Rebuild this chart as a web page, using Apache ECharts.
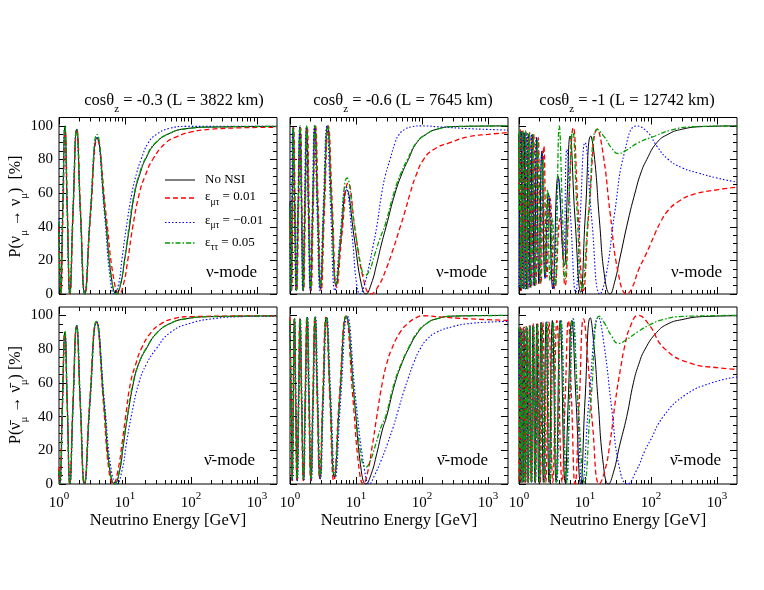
<!DOCTYPE html>
<html><head><meta charset="utf-8">
<script src="https://cdn.jsdelivr.net/npm/echarts@6/dist/echarts.min.js"></script>
<style>html,body{margin:0;padding:0;background:#fff}#c{width:764px;height:590px}</style>
</head><body><div id="c"></div>
<script>
// ---- tick values ----
const energyMajor = [1, 10, 100, 1000];
const energyMinor = [2,3,4,5,6,7,8,9,20,30,40,50,60,70,80,90,200,300,400,500,600,700,800,900];
const probMajor = [0, 20, 40, 60, 80, 100];
const probMinor = [5,10,15,25,30,35,45,50,55,65,70,75,85,90,95];
const panelTitles = ['cosθ{s|z} = -0.3 (L = 3822 km)', 'cosθ{s|z} = -0.6 (L = 7645 km)', 'cosθ{s|z} = -1 (L = 12742 km)'];
const seriesNames = ['No NSI', 'ε{s|μτ} = 0.01', 'ε{s|μτ} = −0.01', 'ε{s|ττ} = 0.05'];

// ---- nu-mode, L = 3822 km : [E (GeV), P (%)] ----
const nu3822_noNSI = [[1,42],[1.06,0],[1.14,50],[1.23,100],[1.335,50],[1.46,0],[1.63,49],[1.85,98],[2.11,49],[2.46,0],[2.98,47],[3.77,93],[5.0,47],[6.3,8],[7.4,0],[8.5,5],[10,22],[11.5,38],[14,60],[17,72],[20.3,80],[29.4,90],[50,96],[83,98.3],[200,99.3],[2000,99.7]];
const nu3822_emtP = [[1,40],[1.07,0],[1.15,49],[1.24,97],[1.345,49],[1.47,0],[1.64,49],[1.86,98],[2.13,48],[2.48,0],[3.0,46],[3.8,92],[5.2,46],[6.8,8],[8.2,0],[9.5,6],[11,20],[13.1,40],[16.5,60],[20,70],[26.2,80],[41.6,90],[60,93.5],[100,96.4],[200,98],[500,98.8],[2000,99.2]];
const nu3822_emtM = [[1,45],[1.05,0],[1.13,50],[1.22,99],[1.325,50],[1.45,0],[1.62,49],[1.84,98],[2.1,49],[2.44,0],[2.96,47],[3.75,93],[4.9,47],[6.0,8],[6.9,0],[8,6],[9,21],[10.4,39],[12.7,60],[15,72],[17.5,80],[22.5,90],[30,95],[46.7,98.5],[83,99.7],[2000,99.8]];
const nu3822_ett = [[1,43],[1.06,0],[1.14,50],[1.23,100],[1.335,50],[1.46,0],[1.63,49],[1.85,98],[2.11,49],[2.46,0],[2.98,48],[3.75,95],[5.0,48],[6.3,8],[7.35,0],[8.4,5],[10,22],[11.3,38],[13.8,60],[17,73],[20,80],[29,90],[50,96],[83,98.3],[200,99.3],[2000,99.7]];

// ---- anti-nu-mode, L = 3822 km ----
const anu3822_noNSI = [[1,8],[1.03,0],[1.12,45],[1.23,90],[1.335,47],[1.46,0],[1.63,47],[1.85,94],[2.1,48],[2.43,0],[2.93,48],[3.69,96],[4.8,48],[5.9,8],[7.0,0],[8.2,7],[9.5,24],[10.9,40],[13.4,60],[16,71],[20.8,80],[31,90],[50,95.5],[83,98],[200,99.3],[2000,99.7]];
const anu3822_emtP = [[1,10],[1.03,0],[1.12,45],[1.22,89],[1.33,46],[1.455,0],[1.62,47],[1.84,93],[2.09,48],[2.42,0],[2.9,48],[3.66,96],[4.7,48],[5.7,8],[6.7,0],[7.8,8],[9,24],[10.2,40],[12.1,60],[14.5,71],[17.5,80],[24.8,90],[35,95],[53,98],[100,99.3],[2000,99.8]];
const anu3822_emtM = [[1,6],[1.035,0],[1.13,45],[1.23,90],[1.34,47],[1.47,0],[1.64,47],[1.86,94],[2.12,48],[2.45,0],[2.96,48],[3.72,96],[4.9,48],[6.2,8],[7.5,0],[9,8],[10.5,24],[12.4,40],[16.2,60],[21,71],[29.4,80],[49,90],[100,95.5],[234,98.2],[500,99.2],[2000,99.6]];
const anu3822_ett = [[1,8],[1.04,0],[1.13,46],[1.23,91],[1.335,47],[1.46,0],[1.63,47],[1.85,94],[2.1,48],[2.43,0],[2.93,48],[3.69,96.5],[4.8,48],[5.9,8],[6.95,0],[8.1,7],[9.4,24],[10.8,40],[13.2,60],[16,71],[20.5,80],[31,90],[50,95.5],[83,98],[200,99.3],[2000,99.7]];

// ---- nu-mode, L = 7645 km ----
const nu7645_noNSI = [[1,55],[1.04,2],[1.08,51],[1.12,99],[1.18,51],[1.25,2],[1.33,51],[1.42,99],[1.5,51],[1.58,2],[1.68,51],[1.79,99],[1.91,51],[2.05,2],[2.21,51],[2.39,100],[2.62,51],[2.9,3],[3.26,51],[3.72,100],[4.27,52],[5.0,5],[5.9,33],[7.2,62],[9.5,32],[12,6],[14.1,0],[17,6],[20.6,18],[24,29],[28.5,40],[39,60],[50,72],[62,80],[83,90],[120,95.5],[166,98],[300,99.6],[2000,100]];
const nu7645_emtP = [[1,45],[1.06,2],[1.1,51],[1.14,99],[1.2,51],[1.27,2],[1.35,51],[1.45,99],[1.52,51],[1.61,2],[1.71,51],[1.83,99],[1.95,51],[2.09,2],[2.25,51],[2.44,100],[2.68,51],[2.96,2],[3.33,51],[3.8,100],[4.38,52],[5.1,4],[6.1,35],[7.6,66],[10,34],[13.5,6],[16.7,0],[22,5],[28,14],[36,26],[45,38],[56,50],[66,60],[80,70],[105,80],[150,86],[265,90],[500,93.5],[1000,95],[2000,96]];
const nu7645_emtM = [[1,30],[1.02,2],[1.06,51],[1.1,99],[1.16,51],[1.23,2],[1.31,51],[1.4,99],[1.48,51],[1.56,2],[1.65,51],[1.76,99],[1.88,51],[2.02,2],[2.17,51],[2.34,100],[2.56,51],[2.84,2],[3.18,51],[3.62,100],[4.12,51],[4.8,2],[5.7,33],[7.0,64],[8.8,33],[10.2,6],[11.5,0],[13.5,6],[16,18],[18,28],[20.6,40],[24.5,60],[28,71],[32.7,80],[39,90],[45,95],[55,98],[70,99.5],[98,100],[200,99.3],[500,98.4],[1000,97.9],[2000,97.5]];
const nu7645_ett = [[1,52],[1.04,2],[1.08,51],[1.12,99],[1.18,51],[1.25,2],[1.33,51],[1.42,100],[1.5,51],[1.58,2],[1.68,51],[1.79,100],[1.91,51],[2.05,3],[2.21,51],[2.39,100],[2.62,52],[2.9,4],[3.26,52],[3.72,100],[4.27,53],[5.0,6],[5.9,37],[7.3,69],[9.5,40],[12,16],[13.7,11],[16,14],[19,23],[23,33],[27.5,41],[38,61],[48,72],[60,80],[82,90],[120,95.5],[166,98],[300,99.6],[2000,100]];

// ---- anti-nu-mode, L = 7645 km ----
const anu7645_noNSI = [[1,97],[1.04,50],[1.08,2],[1.12,50],[1.17,98],[1.22,50],[1.28,2],[1.35,50],[1.42,98],[1.5,50],[1.6,2],[1.7,50],[1.82,99],[1.94,50],[2.08,2],[2.23,50],[2.4,99],[2.6,51],[2.85,3],[3.16,51],[3.55,99],[4.05,52],[4.7,4],[5.65,50],[7.1,99.5],[9.45,50],[12,8],[14.1,0],[17,6],[20.6,18],[25,32],[29,40],[39,60],[50,72],[62,80],[87,90],[120,95.5],[166,98],[300,99.6],[2000,100]];
const anu7645_emtP = [[1,99],[1.04,50],[1.075,2],[1.115,50],[1.16,98],[1.21,50],[1.27,2],[1.34,50],[1.41,98],[1.49,50],[1.59,2],[1.69,50],[1.8,99],[1.92,50],[2.06,2],[2.21,50],[2.38,99],[2.57,51],[2.82,3],[3.12,51],[3.5,99],[4.0,52],[4.6,2],[5.55,50],[7.0,99.5],[9.0,50],[11.2,8],[12.9,0],[15,7],[17.5,22],[20.6,40],[25,60],[29,71],[34.6,80],[46.4,90],[60,95],[80,98.5],[104,99.8],[200,99],[500,98],[1000,97.5],[2000,97]];
const anu7645_emtM = [[1,93],[1.045,50],[1.09,2],[1.13,50],[1.18,98],[1.235,50],[1.3,2],[1.37,50],[1.44,98],[1.52,50],[1.62,2],[1.73,50],[1.85,99],[1.97,50],[2.11,2],[2.27,50],[2.44,99],[2.65,51],[2.9,3],[3.22,51],[3.62,99],[4.15,52],[4.85,4],[5.85,50],[7.4,99.5],[9.9,50],[13.5,8],[15.9,0],[19,5],[24,14],[30,24],[36,33],[43,43],[52,54],[62,63],[75,72],[93,80],[120,86],[166,90],[300,93.5],[473,95],[1000,96],[2000,96.5]];
const anu7645_ett = [[1,97],[1.04,50],[1.08,3],[1.12,50],[1.17,98],[1.22,50],[1.28,3],[1.35,50],[1.42,98],[1.5,51],[1.6,3],[1.7,51],[1.82,99],[1.94,51],[2.08,3],[2.23,51],[2.4,99],[2.6,52],[2.85,4],[3.16,52],[3.55,99],[4.05,53],[4.7,5],[5.65,51],[7.1,99.5],[9.4,52],[12,16],[14.1,10],[16.5,14],[20,24],[24,34],[28,40],[38,60],[49,72],[61,80],[85,90],[120,95.5],[166,98],[300,99.6],[2000,100]];

// ---- nu-mode, L = 12742 km ----
const nu12742_noNSI = [[1,95],[1.06,2],[1.11,97],[1.17,3],[1.23,96],[1.3,3],[1.39,95],[1.48,4],[1.59,95],[1.71,5],[1.85,93],[2.0,6],[2.22,85],[2.47,10],[2.78,60],[3.25,3],[3.9,70],[4.86,17],[5.33,55],[5.93,94],[7.0,47],[8.6,1],[10.1,47],[12.2,94],[14,80],[16.5,44],[20,9],[23.9,0],[28,7],[34,22],[45,44],[57,60],[70,72],[86,80],[122,90],[180,95],[292,98],[600,99.6],[2000,100]];
const nu12742_emtP = [[1,60],[1.04,98],[1.09,2],[1.15,97],[1.21,3],[1.28,96],[1.36,3],[1.45,96],[1.55,4],[1.67,95],[1.8,5],[1.96,93],[2.15,6],[2.38,88],[2.65,10],[2.95,57],[3.5,3],[4.2,45],[4.97,5],[5.7,55],[6.65,99],[7.8,52],[9.4,2],[11.5,50],[15.4,98],[19,82],[24,48],[32,12],[42.8,0],[52,4],[64,14],[80,22],[96.6,29],[115,36],[140,43],[183,50],[260,55],[415,59],[1000,62],[2000,63.5]];
const nu12742_emtM = [[1,4],[1.05,97],[1.11,3],[1.18,96],[1.25,3],[1.33,96],[1.43,4],[1.54,95],[1.67,5],[1.82,93],[2.0,7],[2.22,85],[2.5,9],[2.86,58],[3.33,3],[3.94,69],[4.7,23],[5.3,86],[6.1,43],[7.2,1],[8.4,45],[10,90],[12.6,45],[16.9,0],[21,12],[28,48],[40,85],[61,100],[90,96],[122,88],[183,80],[300,75],[515,72],[1000,69],[2000,66.5]];
const nu12742_ett = [[1,50],[1.02,98],[1.07,3],[1.13,97],[1.19,3],[1.26,97],[1.34,3],[1.42,96],[1.52,4],[1.63,95],[1.76,5],[1.92,92],[2.1,7],[2.3,80],[2.5,12],[2.7,62],[2.95,8],[3.2,45],[3.55,5],[4.08,100],[4.5,55],[4.97,9],[5.63,53],[6.5,97],[7.55,50],[9.0,3],[11.4,50],[15.4,98],[20,93],[25,87],[32,83.5],[40,85],[64,90],[115,94],[200,97.5],[415,99.5],[2000,100]];

// ---- anti-nu-mode, L = 12742 km ----
const anu12742_noNSI = [[1,92],[1.045,1],[1.09,90],[1.14,1],[1.19,91],[1.25,1],[1.31,92],[1.38,1],[1.45,93],[1.54,1],[1.63,94],[1.74,1],[1.86,95],[1.99,1],[2.16,96],[2.34,1],[2.58,96],[2.85,1],[3.2,97],[3.65,1],[4.2,97],[5.0,1],[5.57,50],[6.3,97],[7.3,50],[8.6,0],[10,50],[12,98.6],[13.8,80],[15.7,50],[19,11],[22.6,0],[27,7],[33,22],[42.8,40],[54,60],[65,71],[81,80],[122,90],[180,95],[292,97.5],[600,99.3],[2000,99.8]];
const anu12742_emtP = [[1,2],[1.05,93],[1.1,1],[1.16,93],[1.22,1],[1.28,94],[1.36,1],[1.44,94],[1.53,1],[1.65,95],[1.77,1],[1.92,95],[2.1,1],[2.3,96],[2.55,1],[2.85,96],[3.25,1],[3.75,97],[4.5,1],[5.0,50],[5.6,97],[6.25,50],[7.06,0],[8.2,50],[9.5,98],[11.2,70],[13,35],[16.5,0],[20,8],[24,25],[29,50],[35,70],[40,82],[48,93],[64,100],[91,95],[163,80],[414,71.4],[1000,69],[2000,68]];
const anu12742_emtM = [[1,60],[1.025,92],[1.065,1],[1.11,92],[1.16,1],[1.21,93],[1.27,1],[1.33,93],[1.4,1],[1.48,94],[1.57,1],[1.67,94],[1.78,1],[1.9,95],[2.05,1],[2.22,95],[2.42,1],[2.65,96],[2.95,1],[3.3,96],[3.75,1],[4.35,97],[5.3,1],[5.9,50],[6.65,98],[7.7,50],[9.1,0],[11.5,50],[16,99],[19.5,82],[25.3,45],[33,10],[43.7,0],[60,8],[81,20],[96.6,25.6],[153,40],[327,52.7],[830,60],[2000,63.5]];
const anu12742_ett = [[1,93],[1.045,1],[1.09,92],[1.135,1],[1.19,93],[1.25,1],[1.31,93],[1.38,1],[1.46,94],[1.55,1],[1.65,94],[1.76,1],[1.88,95],[2.03,1],[2.2,95],[2.4,1],[2.65,96],[2.95,1],[3.3,96],[3.7,1],[4.3,97],[5.2,1],[5.8,50],[6.5,98],[7.8,50],[9.8,1],[12.3,50],[16.5,99.6],[20,95],[25,88],[32,83.4],[40,85],[64,90.5],[96.6,94.5],[150,97.5],[300,99.4],[2000,100]];

// ---- layout ----
const FONT = '"Liberation Serif", "Times New Roman", serif';
const cols = [{l: 59, w: 218}, {l: 290, w: 218}, {l: 519, w: 218}];
const rows = [{t: 117.5, h: 176.5}, {t: 307, h: 177}];
const panels = [
  {r: 0, c: 0, d: [nu3822_noNSI, nu3822_emtP, nu3822_emtM, nu3822_ett]},
  {r: 0, c: 1, d: [nu7645_noNSI, nu7645_emtP, nu7645_emtM, nu7645_ett]},
  {r: 0, c: 2, d: [nu12742_noNSI, nu12742_emtP, nu12742_emtM, nu12742_ett]},
  {r: 1, c: 0, d: [anu3822_noNSI, anu3822_emtP, anu3822_emtM, anu3822_ett]},
  {r: 1, c: 1, d: [anu7645_noNSI, anu7645_emtP, anu7645_emtM, anu7645_ett]},
  {r: 1, c: 2, d: [anu12742_noNSI, anu12742_emtP, anu12742_emtM, anu12742_ett]}
];
const lineStyles = [
  {color: '#000000', width: 1, type: 'solid'},
  {color: '#ff0000', width: 1.3, type: [5, 3]},
  {color: '#0000ff', width: 1.1, type: [1.5, 2]},
  {color: '#00a000', width: 1.3, type: [5, 2, 1.5, 2]}
];

const grid = [], xAxis = [], yAxis = [], series = [];
function xAx(gi, pos, ticks, len, labels) {
  return {type: 'log', logBase: 10, gridIndex: gi, position: pos, min: 1, max: 2000,
    axisLine: {show: false, onZero: false}, splitLine: {show: false}, minorTick: {show: false},
    axisTick: {show: true, inside: true, length: len, customValues: ticks, lineStyle: {color: '#000', width: 1}},
    axisLabel: {show: labels, customValues: energyMajor, margin: 7, color: '#000', fontFamily: FONT, fontSize: 15, lineHeight: 24,
      formatter: v => '10{sup|' + Math.round(Math.log10(v)) + '}',
      rich: {sup: {fontSize: 11, lineHeight: 11, verticalAlign: 'top', fontFamily: FONT, color: '#000'}}}};
}
function yAx(gi, pos, ticks, len, labels) {
  return {type: 'value', gridIndex: gi, position: pos, min: 0, max: 105,
    axisLine: {show: false, onZero: false}, splitLine: {show: false},
    axisTick: {show: true, inside: true, length: len, customValues: ticks, lineStyle: {color: '#000', width: 1}},
    axisLabel: {show: labels, customValues: probMajor, margin: 6, color: '#000', fontFamily: FONT, fontSize: 15}};
}
panels.forEach((p, gi) => {
  const c = cols[p.c], r = rows[p.r];
  grid.push({left: c.l, top: r.t, width: c.w, height: r.h, show: true, borderColor: '#000', borderWidth: 1, backgroundColor: 'rgba(0,0,0,0)'});
  const xl = p.r === 1, yl = p.c === 0;
  xAxis.push(xAx(gi, 'bottom', energyMajor, 7, xl), xAx(gi, 'bottom', energyMinor, 4, false),
             xAx(gi, 'top', energyMajor, 7, false), xAx(gi, 'top', energyMinor, 4, false));
  yAxis.push(yAx(gi, 'left', probMajor, 7, yl), yAx(gi, 'left', probMinor, 4, false),
             yAx(gi, 'right', probMajor, 7, false), yAx(gi, 'right', probMinor, 4, false));
  p.d.forEach((d, k) => series.push({type: 'line', name: seriesNames[k], xAxisIndex: gi * 4, yAxisIndex: gi * 4,
    data: d, showSymbol: false, symbol: 'none', smooth: 0.5, silent: true, z: 2 + k,
    lineStyle: Object.assign({}, lineStyles[k])}));
});

// ---- texts ----
const graphic = [];
function txt(x, y, text, size, opts) {
  const o = Object.assign({align: 'center', rot: 0, lh: null, subSize: 11, subLh: 12}, opts || {});
  const style = {text: text, fill: '#000', font: size + 'px ' + FONT, align: o.align, textAlign: o.align,
    verticalAlign: 'middle', textVerticalAlign: 'middle',
    rich: {s: {fontSize: o.subSize, lineHeight: o.subLh, verticalAlign: 'bottom', fontFamily: FONT, fill: '#000'}}};
  if (o.lh) style.lineHeight = o.lh;
  graphic.push({type: 'text', x: x, y: y, rotation: o.rot, style: style, silent: true, z: 100});
}
const titleX = [174, 403, 627];
panelTitles.forEach((t, i) => txt(titleX[i], 101, t, 16.5, {lh: 28, subSize: 11, subLh: 12}));
[168, 399, 628].forEach(x => txt(x, 521, 'Neutrino Energy [GeV]', 16.5));
txt(16, 206.5, 'P(ν{s|μ} → ν{s|μ})  [%]', 16, {rot: Math.PI / 2, lh: 28, subSize: 11, subLh: 12});
txt(16, 395, 'P(ν\u0304{s|μ} → ν\u0304{s|μ}) [%]', 16, {rot: Math.PI / 2, lh: 28, subSize: 11, subLh: 12});
[257, 487, 722].forEach(x => txt(x, 273, 'ν-mode', 17, {align: 'right'}));
[255, 488, 721].forEach(x => txt(x, 461, 'ν\u0304-mode', 17, {align: 'right'}));
// legend
const legY = [180, 198, 222.5, 243];
const legTxtY = [180, 197, 220.5, 242.5];
lineStyles.forEach((ls, k) => {
  graphic.push({type: 'line', shape: {x1: 165, y1: legY[k], x2: 195, y2: legY[k]}, silent: true, z: 100,
    style: {stroke: ls.color, lineWidth: ls.width, lineDash: Array.isArray(ls.type) ? ls.type : null}});
  txt(205, legTxtY[k], seriesNames[k], 13, {align: 'left', lh: 20, subSize: 9.5, subLh: 10});
});

const chart = echarts.init(document.getElementById('c'), null, {renderer: 'canvas'});
chart.setOption({animation: false, backgroundColor: '#fff', grid, xAxis, yAxis, series, graphic});
</script></body></html>
